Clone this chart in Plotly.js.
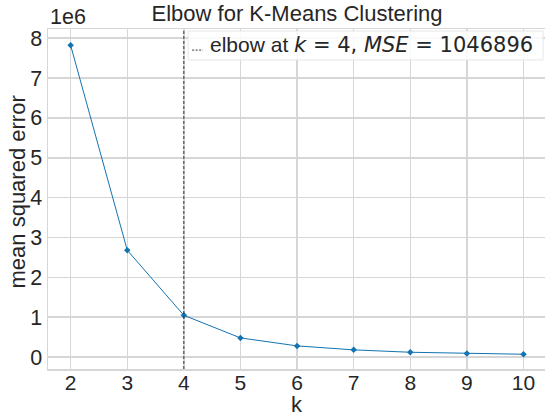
<!DOCTYPE html>
<html><head><meta charset="utf-8">
<script src="https://cdn.plot.ly/plotly-3.0.1.min.js"></script>
<style>html,body{margin:0;padding:0;overflow:hidden;background:#fff}</style>
</head><body><div id="chart" style="width:545px;height:418px"></div>
<script>
const kValues = [2, 3, 4, 5, 6, 7, 8, 9, 10];
const mseValues = [7820000, 2680000, 1046896, 480000, 280000, 180000, 120000, 90000, 70000];
const elbowK = 4;
const elbowMSE = 1046896;
const yTickVals = [0, 1e6, 2e6, 3e6, 4e6, 5e6, 6e6, 7e6, 8e6];
const yTickText = ['0', '1', '2', '3', '4', '5', '6', '7', '8'];
const xTickVals = [2, 3, 4, 5, 6, 7, 8, 9, 10];

const font = 'Liberation Sans, Arial, sans-serif';
const data = [{
  x: kValues, y: mseValues, type: 'scatter', mode: 'lines+markers',
  line: {color: '#1273b0', width: 1}, marker: {symbol: 'diamond', size: 5, color: '#1273b0'},
  hoverinfo: 'x+y', showlegend: false
}];
const layout = {
  width: 545, height: 418,
  margin: {l: 48, r: 0, t: 29, b: 49},
  paper_bgcolor: '#fff', plot_bgcolor: '#fff',
  font: {family: font, color: '#262626', size: 20},
  title: {text: 'Elbow for K-Means Clustering', x: 0.545, xanchor: 'center', y: 0.987, yanchor: 'top', font: {size: 22, color: '#262626'}},
  xaxis: {range: [1.6, 10.38], tickvals: xTickVals, showgrid: true, gridcolor: '#d6d6d6', gridwidth: 1.5,
    zeroline: false, showline: true, linecolor: '#d6d6d6', linewidth: 1.5, mirror: true, ticks: '',
    ticklabelstandoff: -6, tickfont: {size: 21, color: '#262626'}},
  yaxis: {range: [-300000, 8230000], tickvals: yTickVals, ticktext: yTickText, showgrid: true, gridcolor: '#d6d6d6', gridwidth: 1.5,
    zeroline: false, showline: true, linecolor: '#d6d6d6', linewidth: 1.5, mirror: true, ticks: '',
    tickfont: {size: 21.5, color: '#262626'}},
  shapes: [
    {type: 'line', xref: 'x', yref: 'paper', x0: elbowK, x1: elbowK, y0: 0, y1: 1,
     line: {color: '#333', width: 1, dash: '3px,2px'}},
    {type: 'rect', xref: 'paper', yref: 'paper', x0: 0.282, x1: 0.996, y0: 0.909, y1: 0.994,
     fillcolor: 'rgba(255,255,255,0.85)', line: {color: '#e6e6e6', width: 1}},
    {type: 'line', xref: 'paper', yref: 'paper', x0: 0.290, x1: 0.312, y0: 0.938, y1: 0.938,
     line: {color: '#333', width: 1, dash: '2px,1.5px'}}
  ],
  annotations: [
    {xref: 'paper', yref: 'paper', x: 0.322, y: 0.952, xanchor: 'left', yanchor: 'middle', showarrow: false,
     text: 'elbow at <span style="font-family:DejaVu Sans"><i>k</i> = ' + elbowK + ', <i>MSE</i> = ' + elbowMSE + '</span>',
     font: {size: 21, color: '#262626', family: font}},
    {xref: 'paper', yref: 'paper', x: 0, y: 1, xanchor: 'left', yanchor: 'bottom', yshift: -2, showarrow: false,
     text: '1e6', font: {size: 21.5, color: '#262626'}},
    {xref: 'paper', yref: 'paper', x: 0.5, y: -0.104, xanchor: 'center', yanchor: 'middle', showarrow: false,
     text: 'k', font: {size: 22, color: '#262626'}},
    {xref: 'paper', yref: 'paper', x: -0.0604, y: 0.522, xanchor: 'center', yanchor: 'middle', showarrow: false,
     textangle: -90, text: 'mean squared error', font: {size: 22, color: '#262626'}}
  ]
};
Plotly.newPlot('chart', data, layout, {displayModeBar: false, staticPlot: true});
</script></body></html>
